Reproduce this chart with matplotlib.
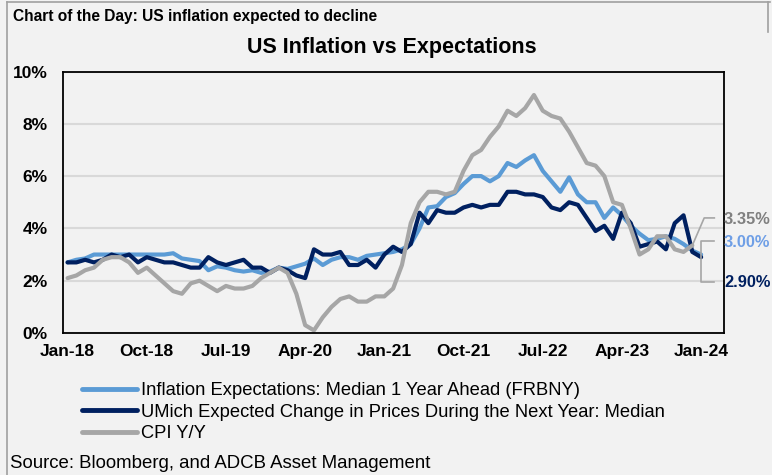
import matplotlib
matplotlib.use("Agg")
import matplotlib.pyplot as plt
from matplotlib.lines import Line2D

plt.rcParams['font.family'] = ['Liberation Sans', 'DejaVu Sans']

# monthly data, Jan-18 onwards
frbny = [2.7, 2.8, 2.85, 3.0, 3.0, 3.0, 3.0, 3.0, 3.0, 3.0, 3.0, 3.0,
         3.05, 2.85, 2.8, 2.75, 2.4, 2.55, 2.5, 2.4, 2.35, 2.4, 2.3, 2.35,
         2.5, 2.45, 2.55, 2.65, 2.85, 2.6, 2.8, 2.9, 2.9, 2.8, 2.95, 3.0,
         3.05, 3.1, 3.2, 3.4, 4.0, 4.8, 4.85, 5.2, 5.35, 5.7, 6.0, 6.0,
         5.8, 6.0, 6.5, 6.35, 6.6, 6.8, 6.2, 5.8, 5.4, 5.95, 5.3, 5.0,
         5.0, 4.4, 4.8, 4.5, 4.1, 3.8, 3.55, 3.6, 3.7, 3.6, 3.4, 3.15,
         3.0]
umich = [2.7, 2.7, 2.8, 2.7, 2.8, 3.0, 2.9, 3.0, 2.7, 2.9, 2.8, 2.7,
         2.7, 2.6, 2.5, 2.5, 2.9, 2.7, 2.6, 2.7, 2.8, 2.5, 2.5, 2.3,
         2.5, 2.4, 2.2, 2.1, 3.2, 3.0, 3.0, 3.1, 2.6, 2.6, 2.8, 2.5,
         3.0, 3.3, 3.1, 3.4, 4.6, 4.2, 4.7, 4.6, 4.6, 4.8, 4.9, 4.8,
         4.9, 4.9, 5.4, 5.4, 5.3, 5.3, 5.2, 4.8, 4.7, 5.0, 4.9, 4.4,
         3.9, 4.1, 3.6, 4.6, 4.2, 3.3, 3.4, 3.5, 3.2, 4.2, 4.5, 3.1,
         2.9]
cpi = [2.1, 2.2, 2.4, 2.5, 2.8, 2.9, 2.9, 2.7, 2.3, 2.5, 2.2, 1.9,
       1.6, 1.5, 1.9, 2.0, 1.8, 1.6, 1.8, 1.7, 1.7, 1.8, 2.1, 2.3,
       2.5, 2.3, 1.5, 0.3, 0.1, 0.6, 1.0, 1.3, 1.4, 1.2, 1.2, 1.4,
       1.4, 1.7, 2.6, 4.2, 5.0, 5.4, 5.4, 5.3, 5.4, 6.2, 6.8, 7.0,
       7.5, 7.9, 8.5, 8.3, 8.6, 9.1, 8.5, 8.3, 8.2, 7.7, 7.1, 6.5,
       6.4, 6.0, 5.0, 4.9, 4.0, 3.0, 3.2, 3.7, 3.7, 3.2, 3.1, 3.35]

tick_labels = ['Jan-18', 'Oct-18', 'Jul-19', 'Apr-20', 'Jan-21',
               'Oct-21', 'Jul-22', 'Apr-23', 'Jan-24']
names = ['Inflation Expectations: Median 1 Year Ahead (FRBNY)',
         'UMich Expected Change in Prices During the Next Year: Median',
         'CPI Y/Y']
colors = ['#5b9bd5', '#002060', '#a6a6a6']
label_colors = ['#6f9fe6', '#002060', '#808080']

bg = '#f2f2f2'
fig = plt.figure(figsize=(7.72, 4.75), dpi=100, facecolor=bg)
ax = fig.add_axes([63 / 772, 1 - 333 / 475, 661 / 772, 261.5 / 475])
ax.set_facecolor(bg)

for vals, c, name in zip([frbny, umich, cpi], colors, names):
    ax.plot(range(len(vals)), vals, color=c, lw=3, label=name,
            solid_joinstyle='round', solid_capstyle='round')

ax.set_xlim(-0.52, 74.6)
ax.set_ylim(0, 10)
ax.set_xticks(range(0, 73, 9))
ax.set_xticklabels(tick_labels)
ax.set_yticks(range(0, 11, 2))
ax.set_yticklabels([f'{v}%' for v in range(0, 11, 2)])
ax.tick_params(length=0, labelsize=12.5)
ax.tick_params(axis='x', pad=8)
ax.tick_params(axis='y', pad=11)
for t in ax.get_xticklabels() + ax.get_yticklabels():
    t.set_fontweight('bold')
ax.yaxis.grid(True, color='#d9d9d9', lw=1.5)
ax.set_axisbelow(True)
for s in ax.spines.values():
    s.set_linewidth(1.3)
    s.set_color('black')

# end labels with leader lines
last_c = len(cpi) - 1
last_e = len(frbny) - 1
ax.plot([last_c, last_c + 1.35, last_c + 2.5], [cpi[-1], cpi[-1] + 1.05, cpi[-1] + 1.05],
        color='#a6a6a6', lw=1.2, clip_on=False)
ax.plot([last_e + 1.5, last_e, last_e, last_e + 1.5],
        [frbny[-1] + 0.5, frbny[-1] + 0.5, umich[-1] - 0.95, umich[-1] - 0.95],
        color='#a6a6a6', lw=1.2, clip_on=False)
lab_x = last_e + 2.6
ax.text(lab_x, cpi[-1] + 0.98, f'{cpi[-1]:.2f}%', color=label_colors[2],
        fontsize=11.8, fontweight='bold', va='center', clip_on=False)
ax.text(lab_x, frbny[-1] + 0.45, f'{frbny[-1]:.2f}%', color=label_colors[0],
        fontsize=11.8, fontweight='bold', va='center', clip_on=False)
ax.text(lab_x, umich[-1] - 0.98, f'{umich[-1]:.2f}%', color=label_colors[1],
        fontsize=11.8, fontweight='bold', va='center', clip_on=False)

fig.text(13 / 772, 1 - 16 / 475, 'Chart of the Day: US inflation expected to decline',
         fontsize=11.2, fontweight='bold', va='center', ha='left')
fig.text(392 / 772, 1 - 48 / 475, 'US Inflation vs Expectations',
         fontsize=15.5, fontweight='bold', va='center', ha='center')

handles = [Line2D([], [], color=c, lw=3.5, solid_capstyle='round') for c in colors]
fig.legend(handles, names, loc='upper left', bbox_to_anchor=(82 / 772, 1 - 382 / 475),
           frameon=False, fontsize=13.2, handlelength=3.0, handletextpad=0.2,
           labelspacing=0.25, borderpad=0, borderaxespad=0)

fig.text(10 / 772, 1 - 463 / 475, 'Source: Bloomberg, and ADCB Asset Management',
         fontsize=13.4, va='center', ha='left')

# outer frame
bc = '#a0a0a0'
fig.add_artist(Line2D([7 / 772, 770 / 772], [1 - 2 / 475, 1 - 2 / 475], color=bc, lw=1.2))
fig.add_artist(Line2D([7 / 772, 7 / 772], [0, 1 - 2 / 475], color=bc, lw=1.2))
fig.add_artist(Line2D([768 / 772, 768 / 772], [1 - 32 / 475, 1 - 2 / 475], color=bc, lw=1.2))

fig.savefig('out.png', dpi=100, facecolor=bg)
